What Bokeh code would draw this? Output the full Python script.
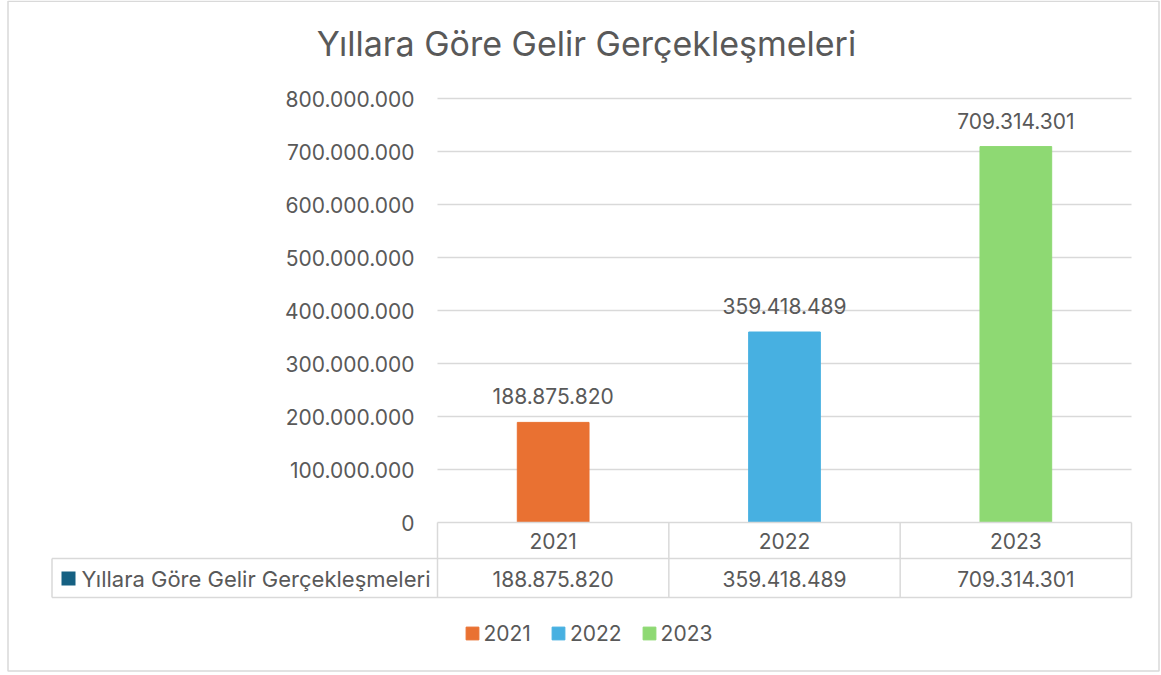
from bokeh.plotting import figure
from bokeh.models import ColumnDataSource, Range1d, LabelSet, Label
from bokeh.core.properties import value as pv
from bokeh.embed import file_html
from bokeh.resources import INLINE

# ---- data ----
title_text = "Yıllara Göre Gelir Gerçekleşmeleri"
series_name = "Yıllara Göre Gelir Gerçekleşmeleri"
years = ["2021", "2022", "2023"]
values = [188875820, 359418489, 709314301]
bar_colors = ["#E97132", "#47B0E1", "#8ED973"]
y_ticks = [0, 100000000, 200000000, 300000000, 400000000,
           500000000, 600000000, 700000000, 800000000]

def fmt(v):
    return f"{int(v):,}".replace(",", ".")

labels = [fmt(v) for v in values]
tick_labels = [fmt(t) for t in y_ticks]

# ---- layout (pixels) ----
W, H = 1160, 672
PLOT_L, PLOT_R = 437, 1131      # plot area left/right edges
PLOT_Y0, PX_PER_100M = 522, 53  # pixel row of value 0, pixels per 100 million
n = len(years)
CAT_W = (PLOT_R - PLOT_L) / n

def X(px):
    return (px - PLOT_L) / CAT_W

def Y(py):
    return (PLOT_Y0 - py) * 1e8 / PX_PER_100M

FONT = "Inter"
TXT = "#595959"
GRID = "#d9d9d9"
FS = "21px"

centers = [i + 0.5 for i in range(n)]
src = ColumnDataSource(dict(x=centers, year=years, value=values, color=bar_colors, label=labels))

p = figure(width=W, height=H, x_range=Range1d(X(0), X(W)), y_range=Range1d(Y(H), Y(0)),
           output_backend="svg", toolbar_location=None,
           x_axis_location=None, y_axis_location=None,
           min_border=0, min_border_left=0, min_border_right=0,
           min_border_top=0, min_border_bottom=0)
p.outline_line_color = None
p.background_fill_color = "white"
p.border_fill_color = "white"
p.grid.visible = False

# outer chart border
p.quad(left=X(7.5), right=X(1158.5), top=Y(0.75), bottom=Y(670.5),
       fill_color=None, line_color=GRID, line_width=1.5)

# horizontal gridlines (value axis)
grid_ticks = y_ticks[1:]
p.segment(x0=0, x1=n, y0=grid_ticks, y1=grid_ticks, line_color=GRID, line_width=1.5)

# bars
p.vbar(x="x", top="value", width=0.31, color="color", source=src, legend_field="year")

# value-axis tick labels
p.text(x=X(414), y=y_ticks, text=tick_labels, text_align="right", text_baseline="middle",
       text_font=pv(FONT), text_font_size=FS, text_color=TXT)

# data labels above bars
p.add_layout(LabelSet(x="x", y="value", text="label", source=src, y_offset=26,
                      text_align="center", text_baseline="middle", text_font=pv(FONT),
                      text_font_size=FS, text_color=TXT))

# ---- data table below the plot ----
TAB_L, ROW1, ROW2, ROW3 = 51.5, 522, 558, 597
p.segment(x0=[0, X(TAB_L), X(TAB_L)], x1=[n, n, n],
          y0=[Y(ROW1), Y(ROW2), Y(ROW3)], y1=[Y(ROW1), Y(ROW2), Y(ROW3)],
          line_color=GRID, line_width=1.5)
vx = list(range(n + 1))
p.segment(x0=vx, x1=vx, y0=Y(ROW1), y1=Y(ROW3), line_color=GRID, line_width=1.5)
p.segment(x0=X(TAB_L), x1=X(TAB_L), y0=Y(ROW2), y1=Y(ROW3), line_color=GRID, line_width=1.5)

# header row (category labels)
p.text(x=centers, y=Y(540), text=years, text_align="center", text_baseline="middle",
       text_font=pv(FONT), text_font_size=FS, text_color=TXT)
# value row
p.text(x=centers, y=Y(578), text=labels, text_align="center", text_baseline="middle",
       text_font=pv(FONT), text_font_size=FS, text_color=TXT)
# series key + name
p.quad(left=X(61), right=X(75), top=Y(571), bottom=Y(585), fill_color="#156082", line_color=None)
p.text(x=X(81), y=Y(578), text=[series_name], text_align="left", text_baseline="middle",
       text_font=pv(FONT), text_font_size="22px", text_color=TXT)

# title
p.add_layout(Label(x=X(586), y=Y(42.5), text=title_text, text_align="center",
                   text_baseline="middle", text_font=FONT, text_font_size="34px",
                   text_color=TXT))

# legend
lg = p.legend[0]
lg.orientation = "horizontal"
lg.location = (463.5, H - 645.5)
lg.border_line_color = None
lg.background_fill_alpha = 0
lg.padding = 0
lg.margin = 0
lg.spacing = 19
lg.glyph_width = 16
lg.glyph_height = 16
lg.label_standoff = 4
lg.label_text_font = FONT
lg.label_text_font_size = FS
lg.label_text_color = TXT

open("out.html", "w").write(file_html(p, INLINE))
